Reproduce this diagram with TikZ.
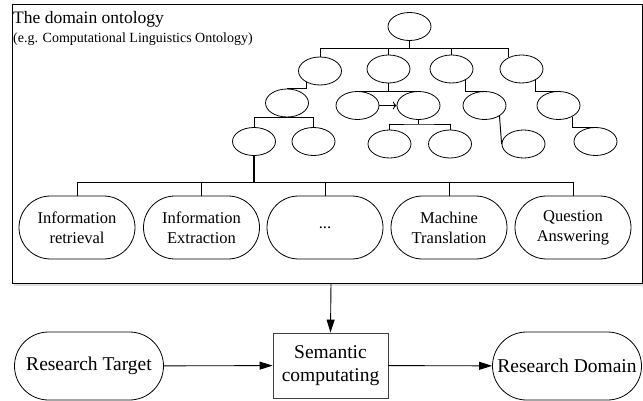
\documentclass[tikz,border=0pt]{standalone}
\usepackage{fontspec}
\setmainfont{Liberation Serif}
\usetikzlibrary{shapes.geometric,shapes.misc,arrows.meta}

\tikzset{
  concept/.style={draw,ellipse,line width=0.8pt,minimum width=43pt,minimum height=28pt,inner sep=0pt},
  field/.style={draw,rounded rectangle,line width=0.8pt,minimum width=120pt,minimum height=63pt,
    align=center,inner sep=2pt,font=\fontsize{16.5}{20}\selectfont},
  term/.style={draw,rounded rectangle,line width=0.8pt,minimum width=151pt,minimum height=68pt,
    inner sep=1pt,font=\fontsize{19.5}{23}\selectfont},
  link/.style={line width=0.95pt},
  flow/.style={line width=0.9pt,-{Triangle[length=13pt,width=8pt]}}
}

\begin{document}
\begin{tikzpicture}[x=1pt,y=-1pt]
\useasboundingbox (0,0) rectangle (643,401);

% ontology frame
\fill[black!12] (14,284) rectangle (643,286);
\draw[line width=0.9pt] (12,4) rectangle (642,283);
\node[anchor=base west,inner sep=0pt,font=\fontsize{17.5}{20}\selectfont] (title) at (13,24) {The domain ontology};
\node[anchor=base west,inner sep=0pt,font=\fontsize{14}{16}\selectfont] (sub) at (13,43) {(e.g. Computational Linguistics Ontology)};

% concept tree
\node[concept] (top) at (409.5,26.5) {};

\node[concept] (a1) at (320,71) {};
\node[concept] (a2) at (388.5,69) {};
\node[concept] (a3) at (451.5,69) {};
\node[concept] (a4) at (521.5,69) {};

\node[concept] (b1) at (287,103) {};
\node[concept] (b2) at (357.5,105.5) {};
\node[concept] (b3) at (418.5,105.5) {};
\node[concept] (b4) at (484.5,105.5) {};
\node[concept] (b5) at (558.5,105.5) {};

\node[concept] (c1) at (254,141.5) {};
\node[concept] (c2) at (313.5,141.5) {};
\node[concept] (c3) at (389.5,144) {};
\node[concept] (c4) at (450,144) {};
\node[concept] (c5) at (523.5,144) {};
\node[concept] (c6) at (595.5,141.5) {};

\coordinate (bar) at (409.5,48);
\draw[link] (top.south) -- (bar);
\draw[link] (bar) -| (a1.north);
\draw[link] (bar) -| (a2.north);
\draw[link] (bar) -| (a3.north);
\draw[link] (bar) -| (a4.138);

\draw[link] (a1.221) |- (b1.north);
\draw[link] (a2.south) -- (a2.south |- b2.north);
\draw[link] (b2.north) -- (b3.north);
\draw[link,->] (b2.east) -- (b3.west);
\draw[link] (a3.323) |- (b4.north);
\draw[link] (a4.321) |- (b5.north);

\draw[link] (c1.north) |- (b1.south) -| (c2.north);
\coordinate (fork) at (418.5,124);
\draw[link] (b3.south) -- (fork);
\draw[link] (c3.north) |- (fork) -| (c4.north);
\draw[link] (b4.325) -- (c5.west);
\draw[link] (b5.320) |- (c6.north);

% research fields
\node[field] (d1) at (77,227.5) {Information\\retrieval};
\node[field] (d2) at (201.5,227.5) {Information\\Extraction};
\node[field] (d3) at (325,227.5) {...};
\node[field] (d4) at (449,227.5) {Machine\\Translation};
\node[field] (d5) at (573,227.5) {Question\\Answering};

\coordinate (hub) at (254,182);
\draw[line width=2pt] (c1.south) -- (hub);
\draw[link] (hub) -| (d1.north);
\draw[link] (hub) -| (d2.north);
\draw[link] (hub) -| (d3.north);
\draw[link] (hub) -| (d4.north);
\draw[link] (hub) -| (d5.north);

% semantic computing
\node[term] (target) at (89,366) {Research Target};
\node[draw=black!75,line width=0.9pt,minimum width=115pt,minimum height=65pt,align=center,
  font=\fontsize{19.5}{23}\selectfont] (sem) at (330.5,365.5) {Semantic\\computating};
\node[term] (domain) at (567,366) {Research Domain};

\coordinate (drop) at (331,283);
\draw[flow] (drop) -- (sem.north);
\draw[flow] (target) -- (sem);
\draw[flow] (sem) -- (domain);
\end{tikzpicture}
\end{document}
